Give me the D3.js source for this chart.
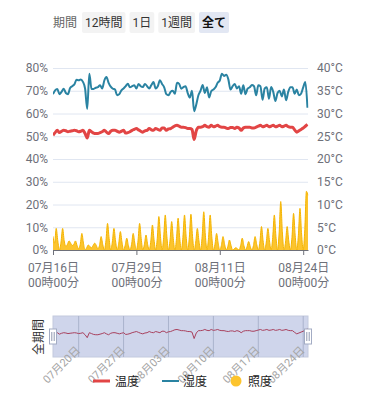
<!DOCTYPE html>
<html>
<head>
<meta charset="utf-8">
<script src="https://cdn.jsdelivr.net/npm/d3@7"></script>
<style>
  body { margin: 0; background: #fff; font-family: Roboto, "Noto Sans CJK JP", sans-serif; }
</style>
</head>
<body>
<script>
const width = 366, height = 400;

// data
const startTime = new Date(2024, 6, 16, 0, 0);
const endTime = new Date(2024, 7, 24, 18, 0);
const humidityStepHours = 8;
const lightStepHours = 6;

// 湿度 (%), every 8 hours
const humidity = [
  68.5, 70.2, 70.8, 68.5, 69.5, 70.9, 69, 68.5, 71.2, 72,
  72.8, 74.8, 74.6, 75, 73.9, 71, 62, 77.5, 70.8, 70.8,
  71.3, 71.6, 72.4, 71, 74.5, 76, 73.5, 71.8, 70.9, 70.5,
  68, 68.5, 70.2, 71, 72, 73.1, 71.5, 72, 72.4, 71,
  73, 72, 71.6, 73, 72, 71, 72.5, 73.8, 71, 72,
  74.6, 73, 71.5, 68.5, 68, 69.5, 70, 68.7, 73.5, 73,
  70.9, 71.6, 72, 69, 67, 70, 61, 64, 68, 70,
  72.5, 69, 71.5, 67, 69.8, 70.5, 71.5, 73.5, 74.5, 77.5,
  76.5, 77, 75, 70.5, 72, 73, 71, 72, 68.7, 72.4,
  68.5, 70.9, 71.5, 72.5, 72, 68, 72.4, 72, 66, 71,
  71.5, 66.5, 71.6, 69.5, 65.5, 69, 70, 67.5, 70.5, 65.8,
  69.5, 71.5, 71.5, 68.7, 70.5, 68, 68.7, 71.5, 73.8, 62.5
];

// 温度 (°C), every 8 hours
const temperature = [
  25.2, 25.8, 26.3, 25.8, 26.1, 26.3, 26.2, 26.0, 26.1, 26.2,
  26.3, 26.2, 26.0, 26.1, 26.3, 25.6, 24.6, 26.3, 26.0, 25.7,
  25.6, 25.6, 25.8, 26.0, 26.3, 25.9, 25.6, 26.1, 26.3, 26.3,
  26.1, 25.9, 26.1, 26.3, 25.7, 25.8, 26.0, 26.3, 26.5, 26.7,
  26.4, 26.1, 25.9, 26.2, 26.3, 26.7, 26.4, 26.3, 26.7, 26.5,
  26.3, 26.8, 26.8, 26.3, 26.6, 26.7, 27.0, 27.3, 27.4, 27.2,
  27.0, 27.0, 26.9, 26.7, 26.7, 26.5, 24.3, 26.2, 27.0, 27.0,
  27.1, 27.4, 27.1, 27.0, 27.4, 27.1, 27.2, 27.4, 27.1, 27.0,
  27.0, 26.8, 26.7, 26.9, 26.9, 26.7, 27.0, 26.8, 26.3, 26.8,
  27.0, 27.0, 27.0, 26.8, 26.8, 27.0, 27.2, 27.4, 27.1, 27.2,
  27.4, 27.1, 27.2, 27.4, 27.1, 27.2, 27.4, 27.1, 27.2, 27.4,
  27.1, 27.0, 27.0, 26.4, 25.9, 26.2, 26.5, 26.8, 27.2, 27.6
];

// 照度 (%), every 6 hours (00, 06, 12, 18 h)
const light = [
  6, 3, 9.5, 4,      0, 3.5, 9.5, 4,    1.5, 2.5, 4, 3,    2, 2.5, 4, 2,
  0.5, 2.5, 7.3, 3,  0, 1, 2.2, 1.5,    1, 2, 3, 2,        0.5, 2, 5.9, 2.5,
  0, 4, 11.7, 5,     0, 3.5, 9.5, 4,    0, 3, 8.1, 3.5,    0, 2, 5.2, 2,
  0, 2.5, 7.3, 3,    0, 4, 11.7, 5,     0, 2.5, 6.6, 2.5,  0, 4, 11, 4.5,
  0, 5, 14.7, 6,     0, 5.5, 15.4, 6,   0, 4.5, 12.5, 5,   0, 5, 14, 5.5,
  0, 5.5, 15.4, 6,   0, 5.5, 15.7, 6,   0, 3.5, 9.5, 4,    0, 6, 16.8, 6.5,
  0, 5.5, 15.4, 6,   0, 2.5, 7.3, 3,    0, 2, 5.9, 2.5,    0, 1.5, 4.4, 2,
  0, 0.5, 1, 0.5,    0, 2, 5.2, 2,      0, 1.5, 3.7, 1.5,  0, 2, 5.9, 2.5,
  0, 3.5, 10.3, 4,   0, 3.5, 9.5, 4,    0, 5.5, 15.4, 6,   0, 7.5, 21.3, 8,
  0, 3.5, 10.3, 4,   0, 5.5, 16.1, 6.5, 0, 6.5, 18.3, 7,   0, 9, 25.8, 24
];

const xTickDates = ["2024-07-16", "2024-07-29", "2024-08-11", "2024-08-24"];
const sliderTickDates = ["2024-07-20", "2024-07-27", "2024-08-03", "2024-08-10", "2024-08-17", "2024-08-24"];
const pctTicks = [0, 10, 20, 30, 40, 50, 60, 70, 80];
const tempTicks = [0, 5, 10, 15, 20, 25, 30, 35, 40];
const periodLabel = "期間";
const periodButtons = ["12時間", "1日", "1週間", "全て"];
const legendNames = ["温度", "湿度", "照度"];
const sliderTitle = "全期間";

const colors = { temp: "#e24545", hum: "#2a83a2", light: "#fcc42d", lightLine: "#f4b400" };

const parseDay = d3.timeParse("%Y-%m-%d");
const fmtDay = d3.timeFormat("%m月%d日");
const fmtTime = d3.timeFormat("%H時%M分");

const humData = humidity.map((v, i) => ({ t: d3.timeHour.offset(startTime, i * humidityStepHours), v }));
const tempData = temperature.map((v, i) => ({ t: d3.timeHour.offset(startTime, i * humidityStepHours), v }));
const lightData = light.map((v, i) => ({ t: d3.timeHour.offset(startTime, i * lightStepHours), v }));

const svg = d3.select("body").append("svg")
    .attr("width", width)
    .attr("height", height)
    .style("display", "block");

// top period buttons
const topBar = svg.append("g").attr("font-size", 12);
topBar.append("text").attr("x", 53).attr("y", 26.5).attr("fill", "#666").text(periodLabel);
let bx = 82;
periodButtons.forEach((label, i) => {
    const last = i === periodButtons.length - 1;
    const g = topBar.append("g");
    const t = g.append("text").attr("y", 26.5)
        .attr("fill", last ? "#111" : "#333")
        .attr("font-weight", last ? "bold" : null)
        .text(label);
    const w = t.node().getComputedTextLength();
    g.insert("rect", "text").attr("x", bx).attr("y", 12).attr("width", w + 6).attr("height", 21)
        .attr("rx", 2).attr("fill", last ? "#e2e7f3" : "#f3f3f3");
    t.attr("x", bx + 3);
    bx += w + 6 + 4;
});

// scales
const x = d3.scaleTime().domain([startTime, endTime]).range([53, 308]);
const yPct = d3.scaleLinear().domain([0, 80]).range([250, 68]);
const yTemp = d3.scaleLinear().domain([0, 40]).range([250, 68]);

// grid
svg.append("g").attr("transform", "translate(53,0)")
    .call(d3.axisLeft(yPct).tickValues(pctTicks).tickSize(-255).tickFormat(""))
    .call(g => g.select(".domain").remove())
    .call(g => g.selectAll(".tick line").attr("stroke", "#e0e6f1"));

// left axis
svg.append("g").attr("transform", "translate(53,0)")
    .call(d3.axisLeft(yPct).tickValues(pctTicks).tickSize(0).tickPadding(5).tickFormat(d => d + "%"))
    .call(g => g.select(".domain").remove())
    .call(g => g.attr("font-family", null).attr("font-size", 12))
    .call(g => g.selectAll("text").attr("fill", "#6e7079"));

// right axis
svg.append("g").attr("transform", "translate(308,0)")
    .call(d3.axisRight(yTemp).tickValues(tempTicks).tickSize(0).tickPadding(9).tickFormat(d => d + "°C"))
    .call(g => g.select(".domain").remove())
    .call(g => g.attr("font-family", null).attr("font-size", 12))
    .call(g => g.selectAll("text").attr("fill", "#6e7079"));

// series
svg.append("clipPath").attr("id", "plot")
    .append("rect").attr("x", 53).attr("y", 60).attr("width", 255.5).attr("height", 192);
const plot = svg.append("g").attr("clip-path", "url(#plot)");

const lightArea = d3.area().curve(d3.curveMonotoneX)
    .x(d => x(d.t)).y0(yPct(0)).y1(d => yPct(d.v));
const lightLine = d3.line().curve(d3.curveMonotoneX)
    .x(d => x(d.t)).y(d => yPct(d.v));
plot.append("path").datum(lightData).attr("d", lightArea).attr("fill", colors.light);
plot.append("path").datum(lightData).attr("d", lightLine)
    .attr("fill", "none").attr("stroke", colors.lightLine).attr("stroke-width", 1);

const humLine = d3.line().curve(d3.curveMonotoneX).x(d => x(d.t)).y(d => yPct(d.v));
plot.append("path").datum(humData).attr("d", humLine)
    .attr("fill", "none").attr("stroke", colors.hum).attr("stroke-width", 2)
    .attr("stroke-linejoin", "round");

const tempLine = d3.line().curve(d3.curveMonotoneX).x(d => x(d.t)).y(d => yTemp(d.v));
plot.append("path").datum(tempData).attr("d", tempLine)
    .attr("fill", "none").attr("stroke", colors.temp).attr("stroke-width", 3)
    .attr("stroke-linejoin", "round");

// bottom axis
svg.append("g").attr("transform", "translate(0,250)")
    .call(d3.axisBottom(x).tickValues(xTickDates.map(parseDay)).tickSize(5).tickSizeOuter(0)
        .tickFormat(d => fmtDay(d) + "\n" + fmtTime(d)))
    .call(g => g.attr("font-family", null).attr("font-size", 12))
    .call(g => g.select(".domain").attr("stroke", "#6e7079"))
    .call(g => g.selectAll(".tick line").attr("stroke", "#6e7079"))
    .call(g => g.selectAll(".tick text").each(function () {
        const t = d3.select(this);
        const lines = t.text().split("\n");
        t.text(null).attr("dy", null).attr("fill", "#6e7079");
        lines.forEach((s, k) => t.append("tspan").attr("x", 0).attr("y", 22 + k * 15).text(s));
    }));

// data zoom slider
const sTop = 316, sBottom = 357;
const ySlider = d3.scaleLinear().domain([18, 32]).range([sBottom, sTop]);
const slider = svg.append("g");
slider.append("rect").attr("x", x.range()[0]).attr("y", sTop)
    .attr("width", x.range()[1] - x.range()[0]).attr("height", sBottom - sTop)
    .attr("fill", "#cfd5eb").attr("stroke", "#c3cade");
slider.selectAll("line.wk").data(sliderTickDates.map(parseDay)).join("line")
    .attr("class", "wk")
    .attr("x1", d => x(d)).attr("x2", d => x(d))
    .attr("y1", sTop).attr("y2", sBottom)
    .attr("stroke", "#aab3cc").attr("stroke-width", 1);
slider.append("path").datum(tempData)
    .attr("d", d3.line().x(d => x(d.t)).y(d => ySlider(d.v)))
    .attr("fill", "none").attr("stroke", "#a8415e").attr("stroke-width", 1);

[x.range()[0], x.range()[1]].forEach(hx => {
    const h = slider.append("g").attr("transform", `translate(${hx},336.5)`);
    h.append("rect").attr("x", -3.5).attr("y", -7.5).attr("width", 7).attr("height", 15)
        .attr("fill", "#fff").attr("stroke", "#a3acc4");
    [-1.2, 1.2].forEach(dx => h.append("line").attr("x1", dx).attr("x2", dx)
        .attr("y1", -4.5).attr("y2", 4.5).attr("stroke", "#8f98b0"));
});

slider.append("text")
    .attr("transform", "translate(43,337) rotate(-90)")
    .attr("text-anchor", "middle").attr("font-size", 12).attr("fill", "#333")
    .text(sliderTitle);

slider.selectAll("text.sl").data(sliderTickDates.map(parseDay)).join("text")
    .attr("class", "sl")
    .attr("transform", d => `translate(${x(d) + 2},351) rotate(-45)`)
    .attr("text-anchor", "end").attr("font-size", 11).attr("fill", "#a5a5a5")
    .text(d => fmtDay(d));

// legend
const legend = svg.append("g").attr("font-size", 12).attr("fill", "#222");
const ly = 381;
legend.append("line").attr("x1", 93).attr("x2", 110).attr("y1", ly).attr("y2", ly)
    .attr("stroke", colors.temp).attr("stroke-width", 3);
legend.append("text").attr("x", 115).attr("y", ly + 4.5).text(legendNames[0]);
legend.append("line").attr("x1", 162).attr("x2", 179).attr("y1", ly).attr("y2", ly)
    .attr("stroke", colors.hum).attr("stroke-width", 2);
legend.append("text").attr("x", 183).attr("y", ly + 4.5).text(legendNames[1]);
legend.append("circle").attr("cx", 236).attr("cy", ly).attr("r", 5.5).attr("fill", colors.light);
legend.append("text").attr("x", 248).attr("y", ly + 4.5).text(legendNames[2]);
</script>
</body>
</html>
